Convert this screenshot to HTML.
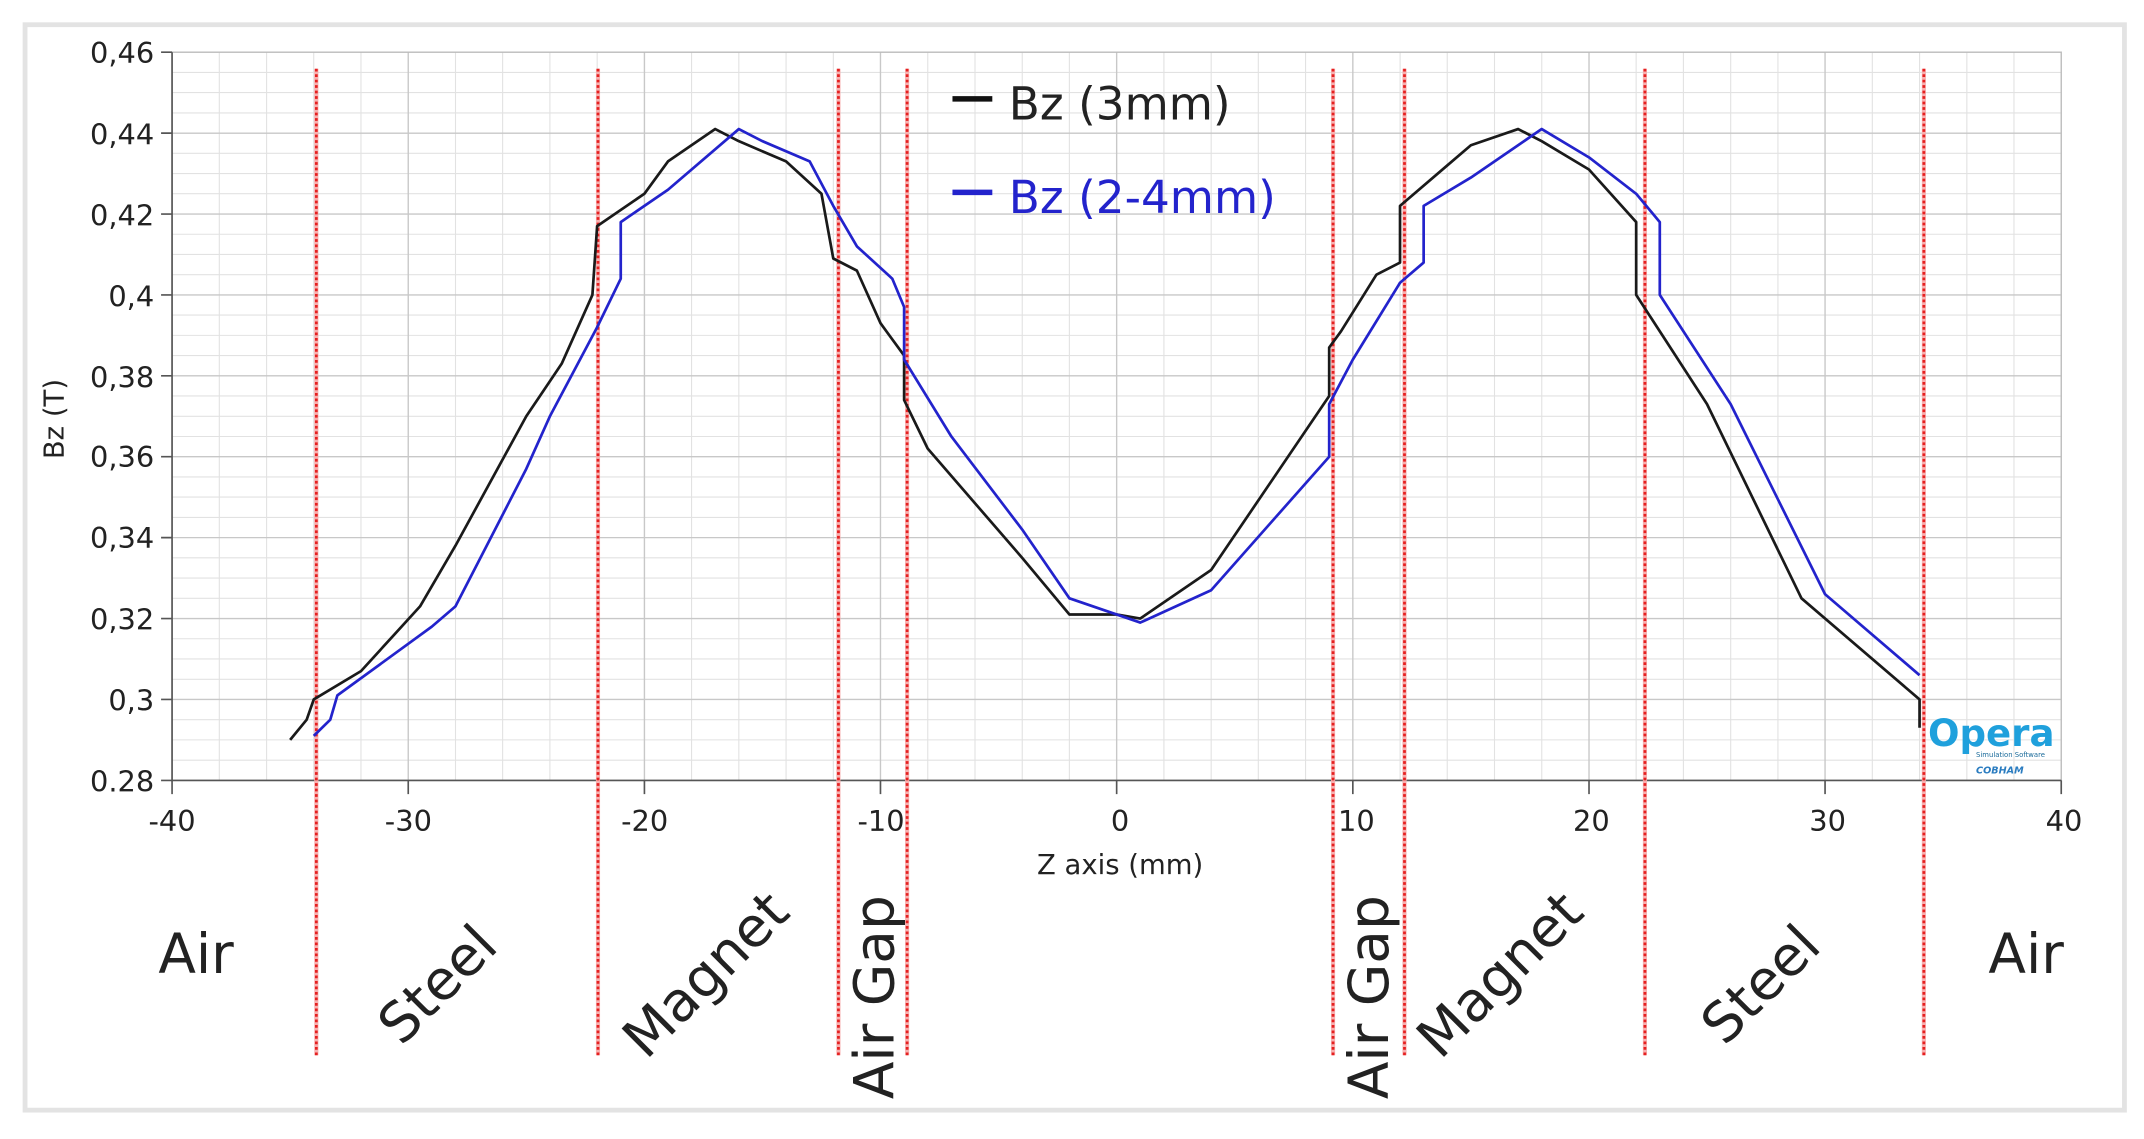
<!DOCTYPE html>
<html><head><meta charset="utf-8"><style>
html,body{margin:0;padding:0;background:#fff;}
svg{display:block;}
text{font-family:"DejaVu Sans","Liberation Sans",sans-serif;fill:#222;}
</style></head><body>
<svg width="2144" height="1139" viewBox="0 0 1560 829" xmlns="http://www.w3.org/2000/svg">
<rect x="0" y="0" width="1560" height="829" fill="#fff"/>
<rect x="18" y="18" width="1528" height="790" fill="none" stroke="#e3e3e3" stroke-width="3.5"/>
<g id="grid">
<g stroke="#e2e2e2" stroke-width="0.8" fill="none">
<path d="M159.4 38V568M193.8 38V568M228.1 38V568M262.5 38V568M331.3 38V568M365.6 38V568M400 38V568M434.4 38V568M503.1 38V568M537.5 38V568M571.9 38V568M606.3 38V568M675 38V568M709.4 38V568M743.8 38V568M778.1 38V568M846.9 38V568M881.3 38V568M915.6 38V568M950 38V568M1018.8 38V568M1053.1 38V568M1087.5 38V568M1121.9 38V568M1190.6 38V568M1225 38V568M1259.4 38V568M1293.8 38V568M1362.5 38V568M1396.9 38V568M1431.3 38V568M1465.6 38V568"/>
<path d="M125 52.7H1500M125 67.4H1500M125 82.2H1500M125 111.6H1500M125 126.3H1500M125 141H1500M125 170.5H1500M125 185.2H1500M125 199.9H1500M125 229.3H1500M125 244.1H1500M125 258.8H1500M125 288.2H1500M125 303H1500M125 317.7H1500M125 347.1H1500M125 361.8H1500M125 376.6H1500M125 406H1500M125 420.7H1500M125 435.5H1500M125 464.9H1500M125 479.6H1500M125 494.4H1500M125 523.8H1500M125 538.5H1500M125 553.3H1500"/>
</g>
<g stroke="#c8c8c8" stroke-width="1" fill="none">
<path d="M296.9 38V568M468.8 38V568M640.6 38V568M812.5 38V568M984.4 38V568M1156.3 38V568M1328.1 38V568"/>
<path d="M125 96.9H1500M125 155.8H1500M125 214.7H1500M125 273.5H1500M125 332.4H1500M125 391.3H1500M125 450.2H1500M125 509.1H1500"/>
</g>
<rect x="125" y="38" width="1375" height="530" fill="none" stroke="#bbb" stroke-width="1"/>
<g stroke="#555" stroke-width="1.2" fill="none">
<path d="M125 38V568H1500"/>
<path d="M117 38H125M117 96.9H125M117 155.8H125M117 214.7H125M117 273.5H125M117 332.4H125M117 391.3H125M117 450.2H125M117 509.1H125M117 568H125"/>
<path d="M125 568V578M296.9 568V578M468.8 568V578M640.6 568V578M812.5 568V578M984.4 568V578M1156.3 568V578M1328.1 568V578M1500 568V578"/>
</g>
</g>
<g font-size="21" text-anchor="end">
<text x="112" y="46">0,46</text><text x="112" y="105">0,44</text><text x="112" y="164">0,42</text>
<text x="112" y="223">0,4</text><text x="112" y="282">0,38</text><text x="112" y="340">0,36</text>
<text x="112" y="399">0,34</text><text x="112" y="458">0,32</text><text x="112" y="517">0,3</text>
<text x="112" y="576">0.28</text>
</g>
<g font-size="21" text-anchor="middle">
<text x="125" y="605">-40</text><text x="297" y="605">-30</text><text x="469" y="605">-20</text>
<text x="641" y="605">-10</text><text x="815" y="605">0</text><text x="987" y="605">10</text>
<text x="1158" y="605">20</text><text x="1330" y="605">30</text><text x="1502" y="605">40</text>
<text x="815" y="636" font-size="20">Z axis (mm)</text>
<text transform="translate(46,305) rotate(-90)" font-size="20">Bz (T)</text>
</g>
<g stroke-width="3" fill="none">
<path stroke="#f7b0b0" d="M230 50V768M435 50V768M610 50V768M660 50V768M970 50V768M1022 50V768M1197 50V768M1400 50V768"/>
<path stroke="#e52020" stroke-dasharray="2 2" stroke-width="2" d="M230 50V768M435 50V768M610 50V768M660 50V768M970 50V768M1022 50V768M1197 50V768M1400 50V768"/>
</g>
<g transform="translate(812.5,1392.4) scale(17.1875,-2944.4)" fill="none" stroke-linejoin="round">
<polyline vector-effect="non-scaling-stroke" stroke="#1a1a1a" stroke-width="2.7" points="-35,0.290 -34.3,0.295 -34,0.30 -32,0.307 -29.5,0.323 -28,0.338 -25,0.37 -23.5,0.383 -22.2,0.40 -22,0.417 -20,0.425 -19,0.433 -17,0.441 -16,0.438 -14,0.433 -12.5,0.425 -12,0.409 -11,0.406 -10,0.393 -9,0.385 -9,0.374 -8,0.362 -4,0.335 -2,0.321 0,0.321 1,0.320 4,0.332 9,0.375 9,0.387 9.5,0.391 11,0.405 12,0.408 12,0.422 14,0.432 15,0.437 17,0.441 18,0.438 20,0.431 22,0.418 22,0.40 25,0.373 29,0.325 34,0.300 34,0.293"/>
<polyline vector-effect="non-scaling-stroke" stroke="#2323cc" stroke-width="2.7" points="-34,0.291 -33.3,0.295 -33,0.301 -29,0.318 -28,0.323 -25,0.357 -24,0.37 -22,0.392 -21,0.404 -21,0.418 -19,0.426 -16,0.441 -15,0.438 -13,0.433 -12,0.422 -11,0.412 -9.5,0.404 -9,0.397 -9,0.384 -7,0.365 -4,0.342 -2,0.325 1,0.319 4,0.327 9,0.360 9,0.373 10,0.384 12,0.403 13,0.408 13,0.422 15,0.429 17,0.437 18,0.441 20,0.434 22,0.425 23,0.418 23,0.40 26,0.373 30,0.326 34,0.306"/>
</g>
<g font-size="33">
<path d="M693 72H722" stroke="#111" stroke-width="4"/>
<text x="734" y="87" fill="#222">Bz (3mm)</text>
<path d="M693 140H722" stroke="#2323cc" stroke-width="4"/>
<text x="734" y="155" style="fill:#2323cc">Bz (2-4mm)</text>
</g>
<g>
<text x="1403" y="543" font-size="27" font-weight="bold" style="fill:#1fa0dc">Opera</text>
<text x="1438" y="551" font-size="5" style="fill:#1a6a9a">Simulation Software</text>
<text x="1438" y="563" font-size="7" font-style="italic" font-weight="bold" style="fill:#2a7cc0">COBHAM</text>
</g>
<g font-size="40" style="font-family:'Liberation Sans',sans-serif">
<text x="115" y="708">Air</text>
<text x="1447" y="708">Air</text>
<text transform="translate(292,762) rotate(-45)">Steel</text>
<text transform="translate(1255,762) rotate(-45)">Steel</text>
<text transform="translate(470,772) rotate(-45)">Magnet</text>
<text transform="translate(1048,772) rotate(-45)">Magnet</text>
<text transform="translate(650,800) rotate(-90)">Air Gap</text>
<text transform="translate(1010,800) rotate(-90)">Air Gap</text>
</g>
</svg>
</body></html>
